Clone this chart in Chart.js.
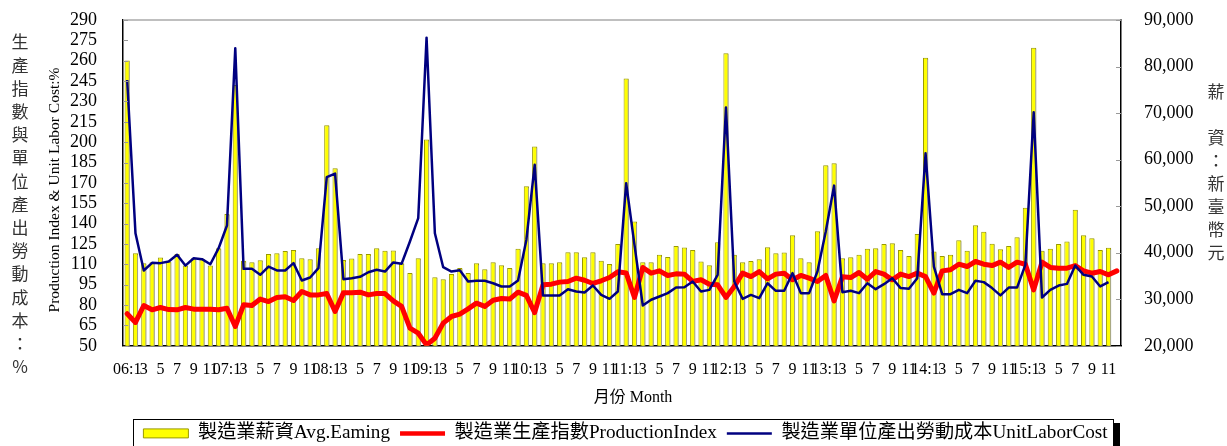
<!DOCTYPE html>
<html>
<head>
<meta charset="utf-8">
<script src="https://cdn.jsdelivr.net/npm/chart.js@4.4.1/dist/chart.umd.min.js"></script>
<style>
  html, body { margin: 0; padding: 0; background: #fff; overflow: hidden; }
  #wrap { width: 1227px; height: 460px; }
</style>
</head>
<body>
<div id="wrap"><canvas id="chart" width="1227" height="460"></canvas></div>
<script>
// 2006:1 ~ 2015:12, monthly
const years = ['06', '07', '08', '09', '10', '11', '12', '13', '14', '15'];

// 製造業薪資 (NT$)
const avgEarning = [
  81300, 39900, 37750, 37950, 38950, 38100, 39700, 37250, 38800, 38700, 37250, 40950,
  48300, 76050, 38250, 37950, 38400, 39700, 39900, 40350, 40600, 38800, 38600, 40950,
  67400, 58150, 38450, 38750, 39700, 39700, 40950, 40400, 40450, 37750, 35650, 38800,
  64350, 34750, 34300, 35450, 36700, 35650, 37750, 36450, 37950, 37300, 36700, 40850,
  54300, 62800, 37750, 37750, 37950, 40100, 40100, 39050, 40100, 38300, 37600, 41850,
  77450, 46700, 37950, 37950, 39550, 39100, 41450, 41100, 40600, 38100, 37300, 42250,
  82850, 39550, 37950, 38200, 38600, 41200, 39900, 40050, 43750, 38800, 37950, 44600,
  58800, 59200, 38800, 39050, 39550, 40850, 40950, 41850, 42050, 40600, 39300, 44000,
  81900, 40250, 39300, 39550, 42700, 40400, 45900, 44500, 41950, 40750, 41450, 43300,
  49650, 84050, 40400, 40850, 41850, 42400, 49250, 43750, 43100, 40600, 41050
];

// 製造業生產指數
const productionIndex = [
  73.6, 67.2, 79.7, 76.5, 78.2, 76.7, 76.5, 78.2, 77.0, 77.0, 77.0, 76.5,
  77.7, 64.2, 80.2, 79.7, 84.4, 82.6, 85.6, 86.1, 83.4, 90.0, 87.5, 87.5,
  88.5, 75.3, 89.0, 89.0, 89.5, 87.5, 88.5, 88.5, 83.1, 79.0, 63.0, 59.3,
  50.7, 55.6, 66.7, 71.6, 73.3, 77.2, 81.4, 79.0, 83.6, 84.8, 84.4, 89.5,
  87.1, 74.5, 94.9, 95.4, 96.9, 97.4, 99.8, 98.3, 95.9, 97.9, 100.3, 104.5,
  103.7, 85.6, 107.7, 103.5, 105.2, 101.8, 103.0, 102.8, 97.4, 98.6, 95.4, 94.9,
  85.6, 93.7, 103.5, 101.0, 104.7, 99.3, 102.8, 103.5, 98.6, 101.8, 99.8, 97.4,
  101.8, 83.1, 100.8, 100.3, 104.0, 99.0, 104.7, 102.8, 98.6, 102.8, 101.0, 103.5,
  101.0, 88.8, 105.2, 106.0, 110.1, 108.4, 112.1, 110.1, 109.1, 111.6, 107.7, 111.6,
  110.1, 91.2, 111.6, 107.7, 107.2, 107.2, 109.1, 105.2, 103.5, 104.7, 102.3, 105.2
];

// 製造業單位產出勞動成本
const unitLaborCost = [
  245.8, 132.9, 105.5, 111.1, 110.9, 112.1, 117.0, 109.1, 114.5, 113.8, 110.1, 121.9,
  138.6, 269.1, 106.7, 106.7, 102.3, 108.4, 105.5, 105.5, 110.9, 98.1, 100.3, 107.2,
  174.2, 176.9, 99.1, 99.8, 100.8, 104.2, 106.0, 104.7, 111.4, 110.4, 126.8, 144.0,
  277.0, 132.9, 107.9, 104.7, 105.7, 97.4, 97.9, 97.9, 96.1, 93.7, 93.7, 98.1,
  128.0, 183.3, 87.1, 87.1, 87.1, 91.7, 90.0, 89.3, 94.4, 87.5, 84.6, 90.0,
  169.8, 124.4, 79.7, 83.9, 86.3, 88.8, 92.9, 93.2, 97.4, 90.0, 91.2, 102.3,
  225.5, 97.4, 84.6, 87.5, 85.1, 96.1, 90.5, 90.5, 103.5, 88.8, 88.8, 104.7,
  134.2, 168.0, 89.5, 90.5, 88.8, 96.1, 91.7, 95.4, 99.8, 92.5, 92.0, 99.8,
  191.8, 108.4, 88.0, 88.0, 91.2, 88.8, 97.9, 96.9, 92.5, 87.1, 92.9, 92.9,
  109.6, 222.0, 85.6, 91.2, 94.4, 95.6, 109.1, 102.3, 101.0, 93.7, 96.9
];

const seriesNames = ['製造業薪資Avg.Eaming', '製造業生產指數ProductionIndex', '製造業單位產出勞動成本UnitLaborCost'];
const leftTitleChars = ['生', '產', '指', '數', '與', '單', '位', '產', '出', '勞', '動', '成', '本', '：', '%'];
const rightTitleChars = ['薪', '', '資', '：', '新', '臺', '幣', '元'];
const leftAxisTitle = 'Production Index & Unit Labor Cost:%';
const xAxisTitle = '月份 Month';

// category labels: "06:1", "2", "3", ...
const months = [];
years.forEach(yy => {
  for (let m = 1; m <= 12; m++) months.push(m === 1 ? yy + ':1' : String(m));
});

const serif = "'Liberation Serif', 'Noto Sans CJK TC', serif";

const barShadow = {
  id: 'barShadow',
  beforeDatasetDraw(chart, args) {
    if (args.index !== 0) return;
    const ctx = chart.ctx;
    ctx.save();
    ctx.shadowColor = 'rgba(160,160,160,0.9)';
    ctx.shadowOffsetX = 2;
    ctx.shadowOffsetY = 1;
    ctx.shadowBlur = 0;
  },
  afterDatasetDraw(chart, args) {
    if (args.index === 0) chart.ctx.restore();
  }
};

const frame = {
  id: 'frame',
  afterDraw(chart) {
    const ctx = chart.ctx;
    const a = chart.chartArea;
    ctx.save();
    // top border
    ctx.strokeStyle = '#aaa';
    ctx.lineWidth = 1.5;
    ctx.beginPath();
    ctx.moveTo(a.left, a.top);
    ctx.lineTo(a.right, a.top);
    ctx.stroke();
    // inner tick marks
    ctx.strokeStyle = '#999';
    ctx.lineWidth = 1;
    const yl = chart.scales.y, yr = chart.scales.y1;
    yl.ticks.forEach(t => {
      const p = Math.round(yl.getPixelForValue(t.value)) + 0.5;
      ctx.beginPath(); ctx.moveTo(a.left, p); ctx.lineTo(a.left + 5, p); ctx.stroke();
    });
    yr.ticks.forEach(t => {
      const p = Math.round(yr.getPixelForValue(t.value)) + 0.5;
      ctx.beginPath(); ctx.moveTo(a.right - 5, p); ctx.lineTo(a.right, p); ctx.stroke();
    });

    // side titles
    ctx.textAlign = 'center';
    ctx.textBaseline = 'middle';
    ctx.fillStyle = '#333';
    ctx.font = "17px 'Noto Sans CJK TC'";
    leftTitleChars.forEach((c, k) => ctx.fillText(c, 20, 42 + k * 23.2));
    rightTitleChars.forEach((c, k) => ctx.fillText(c, 1216, 92 + k * 23));

    ctx.fillStyle = '#000';
    ctx.font = '16px ' + serif;
    ctx.fillText(xAxisTitle, 633, 398);

    ctx.translate(55, 190);
    ctx.rotate(-Math.PI / 2);
    ctx.font = '15.5px ' + serif;
    ctx.fillText(leftAxisTitle, 0, 0);
    ctx.restore();

    // legend frame
    const hb = chart.legend.legendHitBoxes;
    if (hb && hb.length) {
      const last = hb[hb.length - 1];
      const l = Math.round(hb[0].left - 10);
      const r = Math.round(last.left + last.width + 5);
      const cy = Math.round(hb[0].top + hb[0].height / 2);
      ctx.save();
      ctx.strokeStyle = '#000';
      ctx.lineWidth = 1;
      ctx.strokeRect(l + 0.5, cy - 14 + 0.5, r - l, 30);
      ctx.fillStyle = '#000';
      ctx.fillRect(r + 1, cy - 10, 6, 30);
      ctx.restore();
    }
  }
};

const noOverhang = s => { s.paddingTop = 0; s.paddingBottom = 0; };

new Chart(document.getElementById('chart'), {
  type: 'bar',
  data: {
    labels: months,
    datasets: [
      {
        type: 'bar',
        label: seriesNames[0],
        data: avgEarning,
        yAxisID: 'y1',
        backgroundColor: '#ffff00',
        borderColor: '#999900',
        borderWidth: 1,
        barPercentage: 0.62,
        categoryPercentage: 1.0,
        order: 3
      },
      {
        type: 'line',
        label: seriesNames[1],
        data: productionIndex,
        yAxisID: 'y',
        borderColor: '#ff0000',
        backgroundColor: '#ff0000',
        borderWidth: 5,
        pointRadius: 0,
        tension: 0,
        borderJoinStyle: 'round',
        borderCapStyle: 'round',
        order: 2
      },
      {
        type: 'line',
        label: seriesNames[2],
        data: unitLaborCost,
        yAxisID: 'y',
        borderColor: '#000080',
        backgroundColor: '#000080',
        borderWidth: 2.5,
        pointRadius: 0,
        tension: 0,
        borderJoinStyle: 'round',
        order: 1
      }
    ]
  },
  options: {
    responsive: false,
    animation: false,
    devicePixelRatio: 1,
    layout: { padding: { top: 20, right: 0, bottom: 7, left: 24 } },
    plugins: {
      tooltip: { enabled: false },
      legend: {
        position: 'bottom',
        labels: {
          color: '#000',
          font: { family: serif, size: 19.2 },
          usePointStyle: true,
          pointStyleWidth: 45,
          boxHeight: 9,
          padding: 10,
          generateLabels: chart => chart.data.datasets.map((ds, i) => ({
            text: ds.label,
            fillStyle: ds.backgroundColor,
            strokeStyle: ds.borderColor,
            lineWidth: i === 0 ? 1 : (i === 1 ? 4.5 : 2.5),
            pointStyle: i === 0 ? 'rect' : 'line',
            hidden: false,
            datasetIndex: i,
            fontColor: '#000'
          }))
        }
      }
    },
    scales: {
      x: {
        grid: { display: false },
        border: { display: true, color: '#000', width: 1.5 },
        ticks: {
          autoSkip: false,
          maxRotation: 0,
          minRotation: 0,
          padding: 6,
          color: '#000',
          font: { family: serif, size: 16 },
          callback: (v, i) => (i % 2 === 0 ? months[i] : '')
        },
        afterFit: s => { s.height = 68; }
      },
      y: {
        position: 'left',
        min: 50,
        max: 290,
        grid: { display: false },
        border: { display: true, color: '#000', width: 1.5 },
        ticks: {
          stepSize: 15,
          autoSkip: false,
          padding: 18,
          color: '#000',
          font: { family: serif, size: 18 }
        },
        afterFit: s => { s.width = 99; noOverhang(s); }
      },
      y1: {
        position: 'right',
        min: 20000,
        max: 90000,
        grid: { display: false },
        border: { display: true, color: '#000', width: 1.5 },
        ticks: {
          stepSize: 10000,
          autoSkip: false,
          padding: 15,
          color: '#000',
          font: { family: serif, size: 18 },
          callback: v => v.toLocaleString('en-US')
        },
        afterFit: s => { s.width = 106; noOverhang(s); }
      }
    }
  },
  plugins: [barShadow, frame]
});
</script>
</body>
</html>
